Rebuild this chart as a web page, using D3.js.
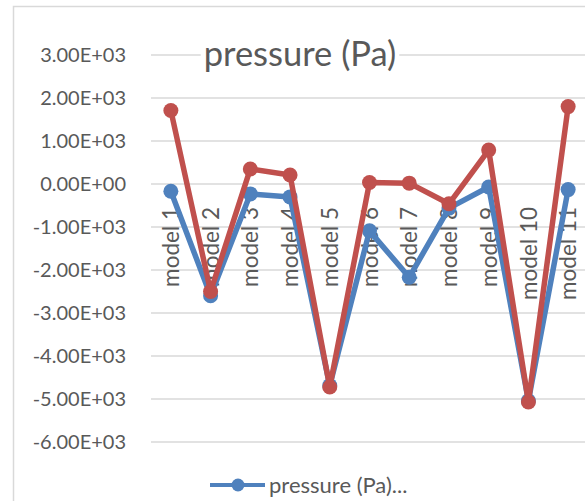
<!DOCTYPE html>
<html>
<head>
<meta charset="utf-8">
<script src="https://cdn.jsdelivr.net/npm/d3@7"></script>
<style>
  html, body { margin: 0; padding: 0; background: #fff; }
  text { font-family: Lato, "Open Sans", sans-serif; fill: #595959; }
</style>
</head>
<body>
<script>
// chart values
var categories = ["model 1", "model 2", "model 3", "model 4", "model 5", "model 6",
                  "model 7", "model 8", "model 9", "model 10", "model 11"];
var seriesBlue = [-170, -2600, -230, -300, -4690, -1090, -2170, -560, -70, -5040, -130];
var seriesRed = [1710, -2500, 350, 210, -4720, 35, 20, -460, 790, -5070, 1800];
var yTicks = [3000, 2000, 1000, 0, -1000, -2000, -3000, -4000, -5000, -6000];
var titleText = "pressure (Pa)";
var legendText = "pressure (Pa)...";

var width = 585, height = 501;
var blue = "#4f81bd", red = "#c0504d", grid = "#d9d9d9";

var svg = d3.select("body").append("svg")
  .attr("width", width)
  .attr("height", height);

svg.append("rect")
  .attr("width", width)
  .attr("height", height)
  .style("fill", "#fff");

// chart area border (runs off the right and bottom)
svg.append("rect")
  .attr("x", 13.5)
  .attr("y", 6.5)
  .attr("width", 700)
  .attr("height", 700)
  .style("fill", "none")
  .style("stroke", grid)
  .style("stroke-width", 1.5);

var x = d3.scaleBand().domain(categories).range([151, 588]);
var y = d3.scaleLinear().domain([-6000, 3000]).range([442, 55]);

var cx = function(d, i) { return x(categories[i]) + x.bandwidth() / 2; };

// gridlines
svg.append("g").selectAll("line")
  .data(yTicks)
  .enter()
  .append("line")
  .attr("x1", 151)
  .attr("x2", 588)
  .attr("y1", function(d) { return y(d); })
  .attr("y2", function(d) { return y(d); })
  .style("stroke", grid)
  .style("stroke-width", 1.5);

// y axis labels, excel style 0.00E+00
var yAxis = d3.axisLeft(y)
  .tickValues(yTicks)
  .tickSize(0)
  .tickPadding(0)
  .tickFormat(function(d) {
    var s = d3.format(".2e")(d).replace("\u2212", "-").replace("e", "E");
    return s.replace(/E([+-])(\d)$/, "E$10$2");
  });

var gy = svg.append("g")
  .attr("transform", "translate(126,0)")
  .call(yAxis);
gy.select(".domain").remove();
gy.selectAll("text")
  .style("font-family", "Lato, sans-serif")
  .style("font-size", "20px")
  .style("fill", "#595959");

// category labels, rotated, hanging below the zero line
svg.append("g").selectAll("text")
  .data(categories)
  .enter()
  .append("text")
  .attr("transform", function(d) {
    return "translate(" + (x(d) + x.bandwidth() / 2) + "," + 207 + ") rotate(-90)";
  })
  .attr("dy", "0.36em")
  .style("text-anchor", "end")
  .style("font-size", "22.5px")
  .text(function(d) { return d; });

// title with white box over gridline
var title = svg.append("g");
var titleBox = title.append("rect").style("fill", "#fff");
var titleLabel = title.append("text")
  .attr("x", 300)
  .attr("y", 66)
  .style("text-anchor", "middle")
  .style("font-size", "34.5px")
  .text(titleText);
var tb = titleLabel.node().getBBox();
titleBox
  .attr("x", tb.x - 3)
  .attr("y", tb.y)
  .attr("width", tb.width + 6)
  .attr("height", tb.height);

var line = d3.line()
  .x(function(d, i) { return cx(d, i); })
  .y(function(d) { return y(d); });

var drawSeries = function(values, color) {
  var g = svg.append("g");
  g.append("path")
    .datum(values)
    .attr("d", line)
    .style("fill", "none")
    .style("stroke", color)
    .style("stroke-width", 5.5)
    .style("stroke-linejoin", "round");
  g.selectAll("circle")
    .data(values)
    .enter()
    .append("circle")
    .attr("cx", cx)
    .attr("cy", function(d) { return y(d); })
    .attr("r", 7.5)
    .style("fill", color);
};

drawSeries(seriesBlue, blue);
drawSeries(seriesRed, red);

// legend (only first entry visible)
var legend = svg.append("g").attr("transform", "translate(210,485)");
legend.append("line")
  .attr("x1", 0)
  .attr("x2", 55)
  .style("stroke", blue)
  .style("stroke-width", 4);
legend.append("circle")
  .attr("cx", 28)
  .attr("r", 6.5)
  .style("fill", blue);
legend.append("text")
  .attr("x", 59)
  .attr("dy", "0.35em")
  .style("font-size", "22px")
  .text(legendText);
</script>
</body>
</html>
